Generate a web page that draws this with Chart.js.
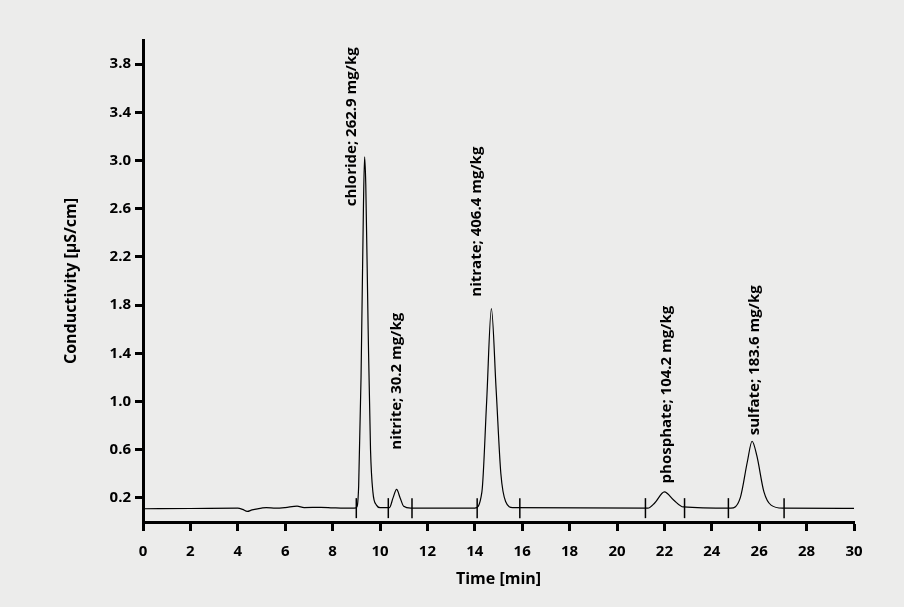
<!DOCTYPE html>
<html lang="en">
<head>
<meta charset="UTF-8">
<title>Chromatogram</title>
<script src="https://cdn.jsdelivr.net/npm/chart.js"></script>
<style>
    html, body { margin: 0; padding: 0; background: #ececeb; }
    .wrap { width: 904px; height: 607px; }
</style>
</head>
<body>
<div class="wrap"><canvas id="chrom"></canvas></div>
<script>
// trace of the chromatogram: [time (min), conductivity (µS/cm)]
const trace = [
    [0, 0.110], [2, 0.112], [4, 0.115], [4.2, 0.105], [4.4, 0.088], [4.6, 0.100], [5, 0.115],
    [5.2, 0.120], [5.6, 0.115], [6, 0.120], [6.5, 0.132], [6.8, 0.120], [7.5, 0.122], [8, 0.118],
    [8.5, 0.115], [9.0, 0.118], [9.1, 0.30], [9.2, 1.20], [9.3, 2.60], [9.35, 3.03], [9.4, 2.80],
    [9.5, 1.60], [9.6, 0.60], [9.7, 0.25], [9.85, 0.14], [10.0, 0.12], [10.4, 0.12], [10.55, 0.20],
    [10.7, 0.27], [10.85, 0.20], [11.0, 0.13], [11.3, 0.115], [14.0, 0.115], [14.3, 0.25],
    [14.5, 1.00], [14.7, 1.77], [14.9, 1.10], [15.1, 0.40], [15.3, 0.17], [15.6, 0.12],
    [21.3, 0.115], [21.6, 0.16], [22.0, 0.25], [22.4, 0.18], [22.8, 0.125], [24.8, 0.115],
    [25.2, 0.20], [25.5, 0.50], [25.7, 0.67], [25.9, 0.55], [26.2, 0.25], [26.5, 0.14],
    [27.0, 0.115], [30, 0.113]
];
// integration boundaries
const markerTimes = [9.0, 10.35, 11.35, 14.1, 15.9, 21.2, 22.85, 24.7, 27.05];
const markerLevel = 0.115;
// peak labels: text, time of label centre, value where label starts
const peakNames = ['chloride; 262.9 mg/kg', 'nitrite; 30.2 mg/kg', 'nitrate; 406.4 mg/kg', 'phosphate; 104.2 mg/kg', 'sulfate; 183.6 mg/kg'];
const peakLabelTimes = [8.8, 10.7, 14.1, 22.1, 25.8];
const peakLabelValues = [2.62, 0.60, 1.87, 0.32, 0.72];
const yTicks = [0.2, 0.6, 1.0, 1.4, 1.8, 2.2, 2.6, 3.0, 3.4, 3.8];

const FONT = "'Open Sans', sans-serif";

const peakLabelPlugin = {
    id: 'peakLabels',
    afterDatasetsDraw(chart) {
        const { ctx, scales: { x, y } } = chart;
        ctx.save();
        ctx.fillStyle = '#000';
        ctx.font = 'bold 15px ' + FONT;
        ctx.textAlign = 'left';
        ctx.textBaseline = 'middle';
        peakNames.forEach((name, i) => {
            ctx.save();
            ctx.translate(x.getPixelForValue(peakLabelTimes[i]), y.getPixelForValue(peakLabelValues[i]));
            ctx.rotate(-Math.PI / 2);
            ctx.fillText(name, 0, 0);
            ctx.restore();
        });
        ctx.restore();
    }
};

new Chart(document.getElementById('chrom'), {
    type: 'scatter',
    data: {
        datasets: [{
            data: trace.map(p => ({ x: p[0], y: p[1] })),
            showLine: true,
            borderColor: '#000',
            borderWidth: 1.2,
            pointRadius: 0,
            cubicInterpolationMode: 'monotone'
        }, {
            data: markerTimes.map(t => ({ x: t, y: markerLevel })),
            pointStyle: 'line',
            rotation: 90,
            pointRadius: 10,
            borderColor: '#000',
            borderWidth: 1.5
        }]
    },
    options: {
        responsive: true,
        maintainAspectRatio: false,
        animation: false,
        layout: { padding: { top: 40, right: 50, left: 58, bottom: 14 } },
        plugins: { legend: { display: false }, tooltip: { enabled: false } },
        scales: {
            x: {
                min: 0, max: 30,
                afterFit: s => { s.height = 71; },
                ticks: { stepSize: 2, color: '#000', font: { family: FONT, size: 15, weight: 'bold' }, padding: 12, maxRotation: 0 },
                grid: { display: true, drawOnChartArea: false, drawTicks: true, tickLength: 9, tickWidth: 3, tickColor: '#000' },
                border: { color: '#000', width: 3 },
                title: { display: true, text: 'Time [min]', color: '#000', font: { family: FONT, size: 16, weight: 'bold' }, padding: { top: 0 } }
            },
            y: {
                min: 0, max: 4.0,
                afterFit: s => { s.width = 85; },
                afterBuildTicks: s => { s.ticks = yTicks.map(v => ({ value: v })); },
                ticks: { color: '#000', font: { family: FONT, size: 15, weight: 'bold' }, callback: v => v.toFixed(1), padding: 4 },
                grid: { display: true, drawOnChartArea: false, drawTicks: true, tickLength: 8, tickWidth: 3, tickColor: '#000' },
                border: { color: '#000', width: 3 },
                title: { display: true, text: 'Conductivity [µS/cm]', color: '#000', font: { family: FONT, size: 16, weight: 'bold' } }
            }
        }
    },
    plugins: [peakLabelPlugin]
});
</script>
</body>
</html>
